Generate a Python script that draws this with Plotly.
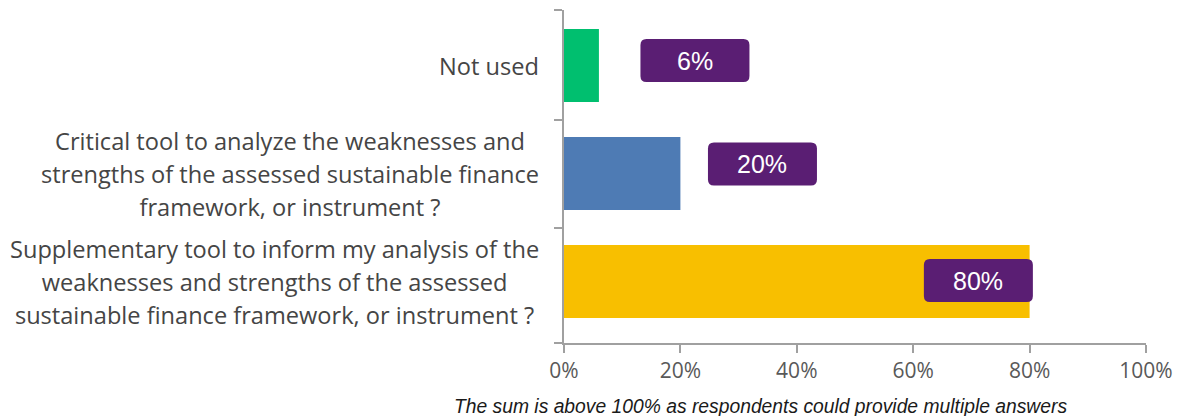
import plotly.graph_objects as go

# Survey answers (top to bottom)
categories = [
    "Not used",
    "Critical tool to analyze the weaknesses and<br>strengths of the assessed sustainable finance<br>framework, or instrument ?",
    "Supplementary tool to inform my analysis of the<br>weaknesses and strengths of the assessed<br>sustainable finance framework, or instrument ?",
]
shares = [6, 20, 80]
bar_colors = ["#00BF6F", "#4E7BB4", "#F8BF00"]
x_ticks = [0, 20, 40, 60, 80, 100]
x_tick_labels = ["0%", "20%", "40%", "60%", "80%", "100%"]
footnote = "The sum is above 100% as respondents could provide multiple answers"

# Value-badge placement (x centre in axis units, y offset in category units)
badge_x = [22.5, 34.1, 71.2]
badge_dy = [-0.046, -0.088, -0.009]

W, H = 1186, 416
M_L, M_R, M_T, M_B = 564, 40, 10, 73
Y_TOP, Y_BOTTOM = -0.514, 2.569
plot_w = W - M_L - M_R
plot_h = H - M_T - M_B
px_x = plot_w / 100.0
px_y = plot_h / (Y_BOTTOM - Y_TOP)

fig = go.Figure()
fig.add_trace(go.Bar(
    y=list(range(len(categories))),
    x=shares,
    orientation="h",
    marker=dict(color=bar_colors, line=dict(width=0)),
    width=0.676,
    hoverinfo="skip",
))


def rounded_box(cx, cy, w_px, h_px, r_px):
    hw = w_px / 2 / px_x
    hh = h_px / 2 / px_y
    rx = r_px / px_x
    ry = r_px / px_y
    x0, x1 = cx - hw, cx + hw
    y0, y1 = cy - hh, cy + hh
    return (
        f"M {x0 + rx},{y0} L {x1 - rx},{y0} Q {x1},{y0} {x1},{y0 + ry} "
        f"L {x1},{y1 - ry} Q {x1},{y1} {x1 - rx},{y1} "
        f"L {x0 + rx},{y1} Q {x0},{y1} {x0},{y1 - ry} "
        f"L {x0},{y0 + ry} Q {x0},{y0} {x0 + rx},{y0} Z"
    )


for i, v in enumerate(shares):
    cy = i + badge_dy[i]
    fig.add_shape(
        type="path",
        path=rounded_box(badge_x[i], cy, 109, 43, 6),
        xref="x", yref="y",
        fillcolor="#5A1E73",
        line=dict(width=0),
        layer="above",
    )
    fig.add_annotation(
        x=badge_x[i], y=cy, xref="x", yref="y",
        text=f"{v}%", showarrow=False,
        font=dict(family="Liberation Sans, Arial", size=25, color="white"),
        xanchor="center", yanchor="middle",
    )

# Category labels: wide line pitch, centred lines, right-aligned block
for i, label in enumerate(categories):
    lines = label.split("<br>")
    text = "<br>".join(f"<span style='font-size:23.6px'>{ln}</span>" for ln in lines)
    fig.add_annotation(
        x=0, y=i, xref="paper", yref="y",
        text=text, showarrow=False, align="center",
        xanchor="right", yanchor="middle", xshift=-23,
        font=dict(family="Open Sans, sans-serif", size=25.5, color="#454545"),
    )

fig.add_annotation(
    x=(760 - M_L) / plot_w, y=-(406 - (H - M_B)) / plot_h,
    xref="paper", yref="paper", text=f"<i>{footnote}</i>", showarrow=False,
    xanchor="center", yanchor="middle",
    font=dict(family="Liberation Sans, Arial", size=19.3, color="#1a1a1a"),
)

fig.update_layout(
    width=W, height=H,
    margin=dict(l=M_L, r=M_R, t=M_T, b=M_B, pad=0),
    paper_bgcolor="white", plot_bgcolor="white",
    showlegend=False,
    xaxis=dict(
        range=[0, 100], tickvals=x_ticks, ticktext=x_tick_labels,
        showgrid=False, zeroline=False,
        showline=True, linecolor="#A0A0A0", linewidth=2,
        ticks="outside", ticklen=8, tickwidth=2, tickcolor="#A0A0A0",
        tickfont=dict(family="Open Sans, sans-serif", size=21, color="#595959"),
    ),
    yaxis=dict(
        range=[Y_BOTTOM, Y_TOP], tickvals=[Y_TOP, 0.5, 1.5, Y_BOTTOM],
        ticktext=["", "", "", ""],
        showgrid=False, zeroline=False,
        showline=True, linecolor="#A0A0A0", linewidth=2,
        ticks="outside", ticklen=8, tickwidth=2, tickcolor="#A0A0A0",
    ),
)

fig.write_html("out.html")
